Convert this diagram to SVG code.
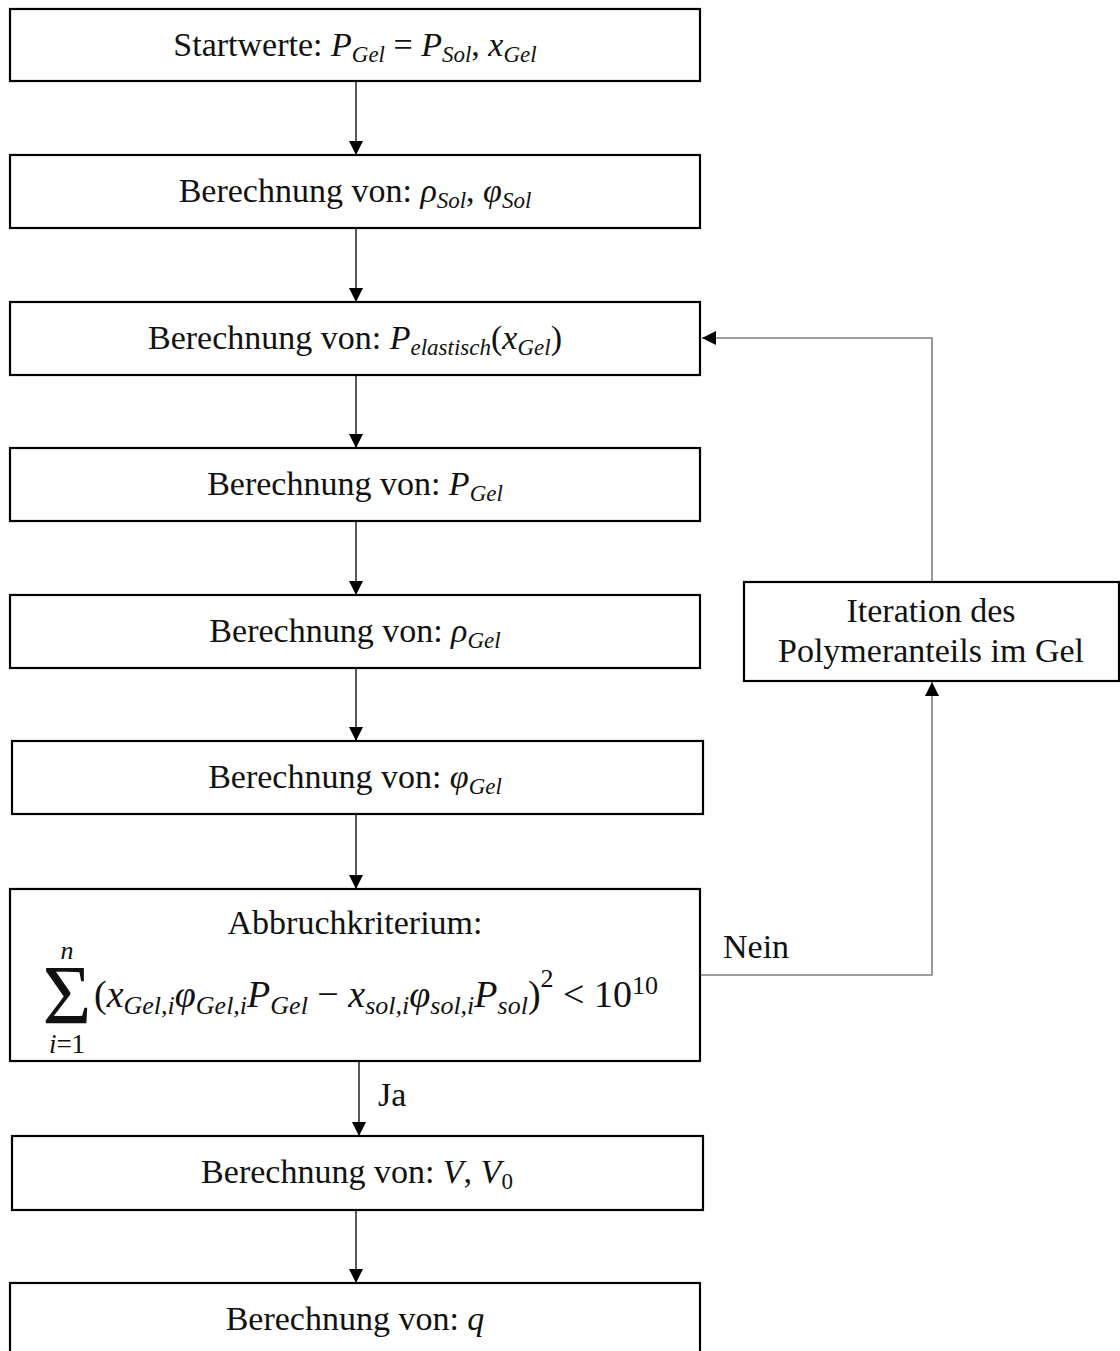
<svg xmlns="http://www.w3.org/2000/svg" width="1120" height="1351" viewBox="0 0 1120 1351">
<style>
.box{fill:#fff;stroke:#000;stroke-width:2.2}
.t{font-family:"Liberation Serif",serif;font-size:34px;fill:#111}
.m{font-style:italic}
.s{font-size:23px;font-style:italic}
.e{font-size:23px}
.f{font-size:38px}
.fs{font-size:26px;font-style:italic}
.fe{font-size:26px}
.c{stroke:#000;stroke-width:1.3;fill:none}
.g{stroke:#808080;stroke-width:1.6;fill:none}
</style>
<defs>
<marker id="ah" markerUnits="userSpaceOnUse" markerWidth="14" markerHeight="14" refX="14" refY="7" orient="auto">
<path d="M0,0 L14,7 L0,14 Z" fill="#000"/>
</marker>
</defs>
<g id="connectors">
<path class="c" d="M356,81 V155" marker-end="url(#ah)"/>
<path class="c" d="M356,228 V302" marker-end="url(#ah)"/>
<path class="c" d="M356,375 V448" marker-end="url(#ah)"/>
<path class="c" d="M356,521 V595" marker-end="url(#ah)"/>
<path class="c" d="M356,668 V741" marker-end="url(#ah)"/>
<path class="c" d="M356,814 V889" marker-end="url(#ah)"/>
<path class="c" d="M359,1061 V1136" marker-end="url(#ah)"/>
<path class="c" d="M356,1210 V1283" marker-end="url(#ah)"/>
<path class="g" d="M700,975 H932 V682" marker-end="url(#ah)"/>
<path class="g" d="M932,582 V338 H702" marker-end="url(#ah)"/>
<text class="t" x="723" y="958">Nein</text>
<text class="t" x="378" y="1106">Ja</text>
</g>
<g id="n1">
<rect class="box" x="10" y="9" width="690" height="72"/>
<text class="t" x="355" y="56" text-anchor="middle">Startwerte: <tspan class="m">P</tspan><tspan class="s" baseline-shift="-6">Gel</tspan> = <tspan class="m">P</tspan><tspan class="s" baseline-shift="-6">Sol</tspan>, <tspan class="m">x</tspan><tspan class="s" baseline-shift="-6">Gel</tspan></text>
</g>
<g id="n2">
<rect class="box" x="10" y="155" width="690" height="73"/>
<text class="t" x="355" y="202" text-anchor="middle">Berechnung von: <tspan class="m">ρ</tspan><tspan class="s" baseline-shift="-6">Sol</tspan>, <tspan class="m">φ</tspan><tspan class="s" baseline-shift="-6">Sol</tspan></text>
</g>
<g id="n3">
<rect class="box" x="10" y="302" width="690" height="73"/>
<text class="t" x="355" y="349" text-anchor="middle">Berechnung von: <tspan class="m">P</tspan><tspan class="s" baseline-shift="-6">elastisch</tspan>(<tspan class="m">x</tspan><tspan class="s" baseline-shift="-6">Gel</tspan>)</text>
</g>
<g id="n4">
<rect class="box" x="10" y="448" width="690" height="73"/>
<text class="t" x="355" y="495" text-anchor="middle">Berechnung von: <tspan class="m">P</tspan><tspan class="s" baseline-shift="-6">Gel</tspan></text>
</g>
<g id="n5">
<rect class="box" x="10" y="595" width="690" height="73"/>
<text class="t" x="355" y="642" text-anchor="middle">Berechnung von: <tspan class="m">ρ</tspan><tspan class="s" baseline-shift="-6">Gel</tspan></text>
</g>
<g id="n6">
<rect class="box" x="12" y="741" width="691" height="73"/>
<text class="t" x="355" y="788" text-anchor="middle">Berechnung von: <tspan class="m">φ</tspan><tspan class="s" baseline-shift="-6">Gel</tspan></text>
</g>
<g id="n7">
<rect class="box" x="10" y="889" width="690" height="172"/>
<text class="t" x="355" y="934" text-anchor="middle">Abbruchkriterium:</text>
<text class="t" x="67" y="959" text-anchor="middle" style="font-size:26px;font-style:italic">n</text>
<text class="t" x="67" y="1024" text-anchor="middle" style="font-size:84px">Σ</text>
<text class="t" x="67" y="1053" text-anchor="middle" style="font-size:27px"><tspan font-style="italic">i</tspan>=1</text>
<text class="t f" x="94" y="1007">(<tspan class="m">x</tspan><tspan class="fs" baseline-shift="-7">Gel,i</tspan><tspan class="m">φ</tspan><tspan class="fs" baseline-shift="-7">Gel,i</tspan><tspan class="m">P</tspan><tspan class="fs" baseline-shift="-7">Gel</tspan> − <tspan class="m">x</tspan><tspan class="fs" baseline-shift="-7">sol,i</tspan><tspan class="m">φ</tspan><tspan class="fs" baseline-shift="-7">sol,i</tspan><tspan class="m">P</tspan><tspan class="fs" baseline-shift="-7">sol</tspan>)<tspan class="fe" baseline-shift="20">2</tspan> &lt; 10<tspan class="fe" baseline-shift="13">10</tspan></text>
</g>
<g id="n8">
<rect class="box" x="12" y="1136" width="691" height="74"/>
<text class="t" x="357" y="1183" text-anchor="middle">Berechnung von: <tspan class="m">V</tspan>, <tspan class="m">V</tspan><tspan class="e" baseline-shift="-6">0</tspan></text>
</g>
<g id="n9">
<rect class="box" x="10" y="1283" width="690" height="72"/>
<text class="t" x="355" y="1330" text-anchor="middle">Berechnung von: <tspan class="m">q</tspan></text>
</g>
<g id="n10">
<rect class="box" x="744" y="582" width="375" height="99"/>
<text class="t" x="931" y="622" text-anchor="middle">Iteration des</text>
<text class="t" x="931" y="662" text-anchor="middle">Polymeranteils im Gel</text>
</g>
</svg>
